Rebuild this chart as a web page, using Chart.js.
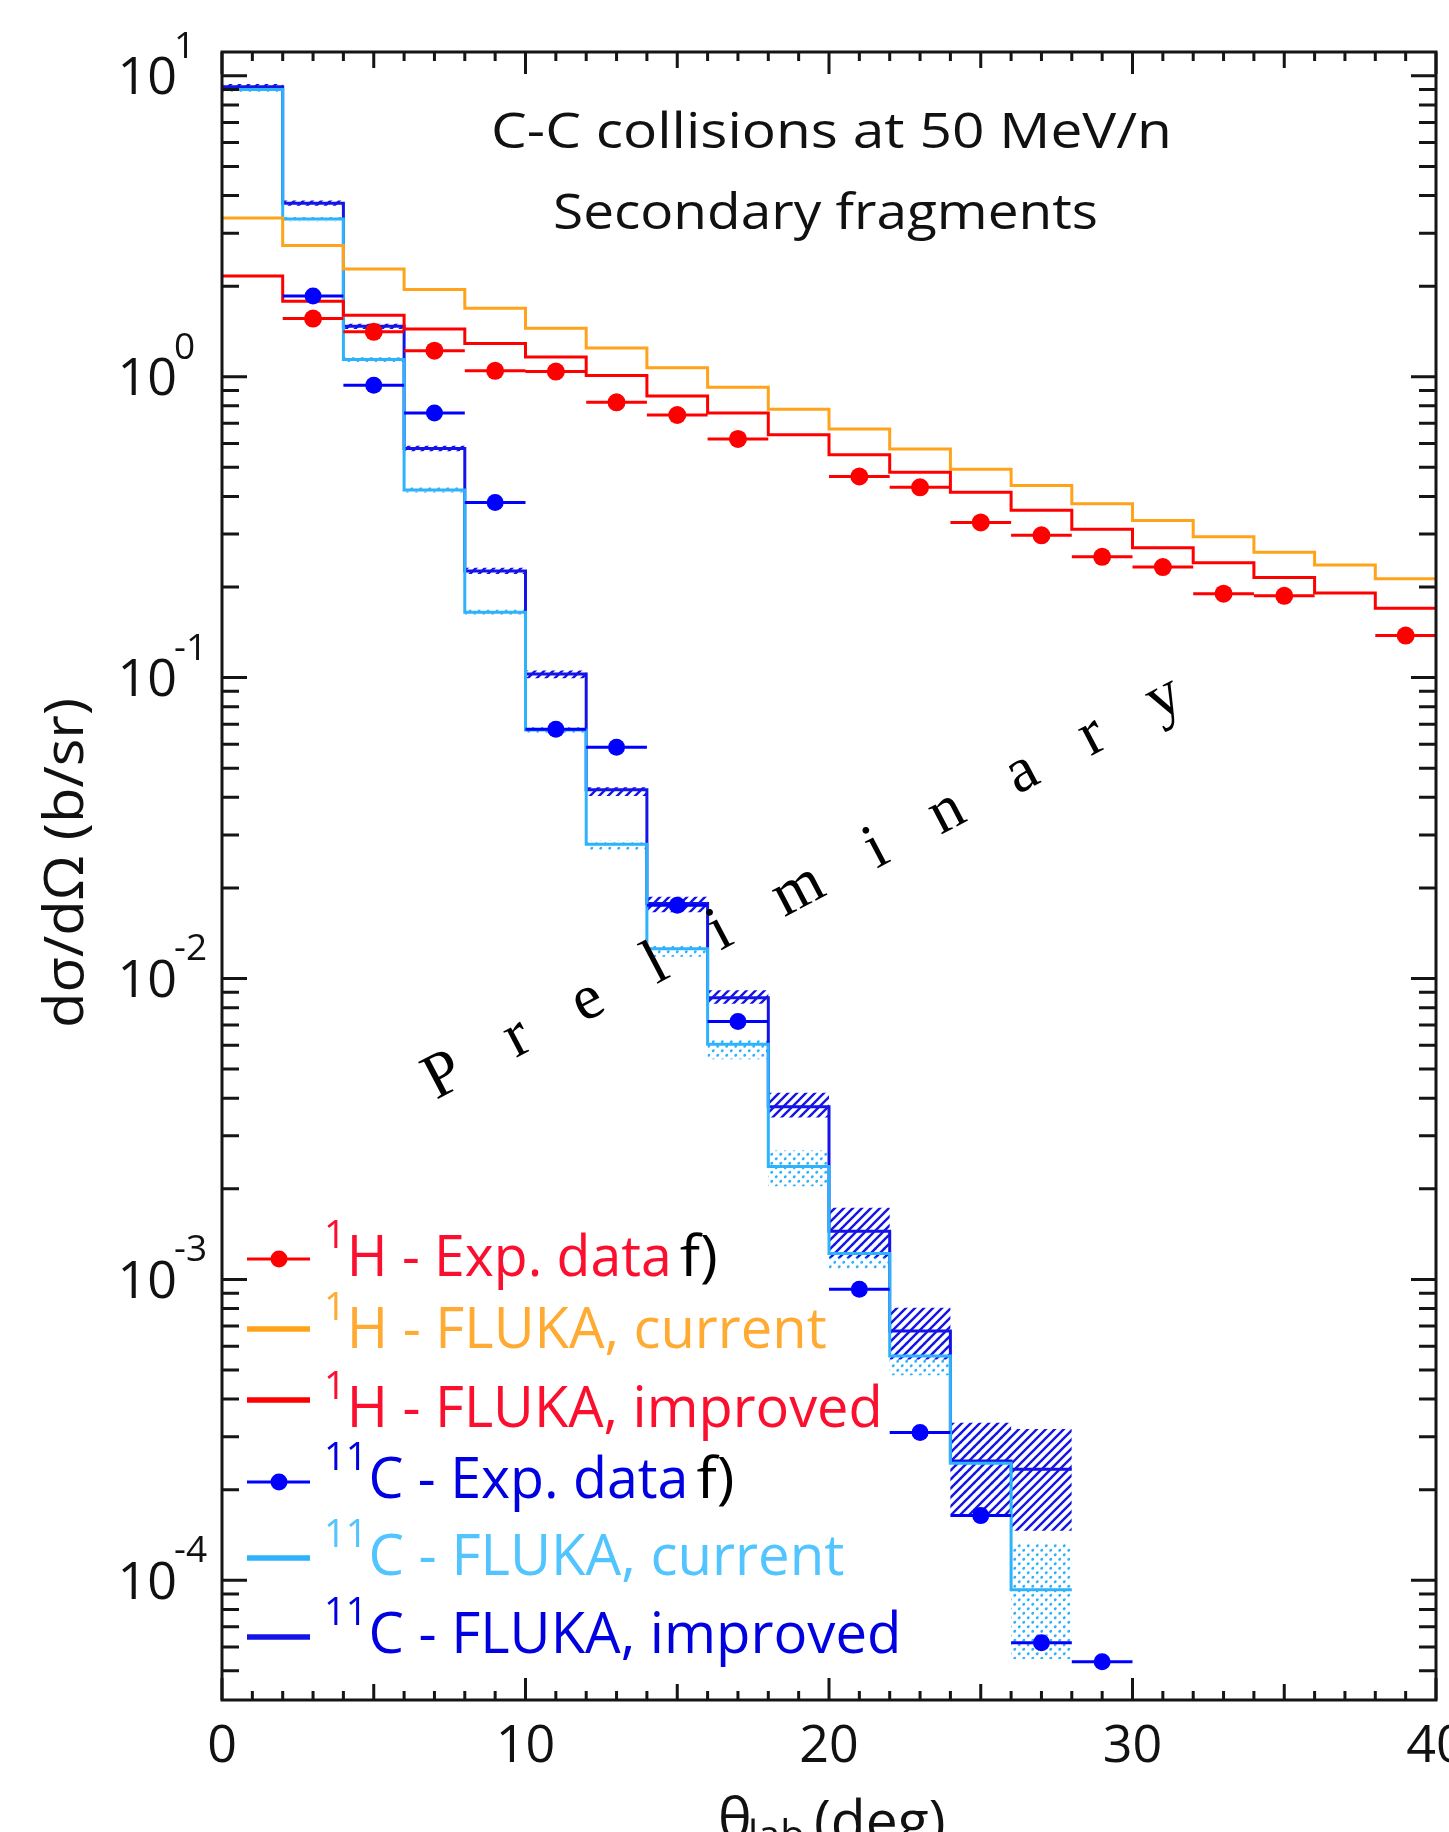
<!DOCTYPE html>
<html><head><meta charset="utf-8">
<script src="https://cdn.jsdelivr.net/npm/chart.js@4.4.1/dist/chart.umd.min.js"></script>
<style>html,body{margin:0;padding:0;background:#fff;overflow:hidden}canvas{display:block}</style>
</head><body>
<canvas id="c" width="1449" height="1832"></canvas>
<script>
// ---------- data ----------
const hBinEdges = [0,2,4,6,8,10,12,14,16,18,20,22,24,26,28,30,32,34,36,38,40];
const hFlukaCurrent  = [3.37,2.73,2.28,1.95,1.69,1.45,1.246,1.072,0.923,0.780,0.670,0.575,0.493,0.435,0.378,0.333,0.294,0.261,0.2365,0.213];
const hFlukaImproved = [2.16,1.78,1.60,1.44,1.29,1.163,1.01,0.862,0.757,0.641,0.550,0.481,0.413,0.360,0.311,0.270,0.241,0.215,0.191,0.170];
const hExpAngle = [3,5,7,9,11,13,15,17,21,23,25,27,29,31,33,35,39];
const hExpValue = [1.56,1.41,1.22,1.046,1.04,0.822,0.746,0.621,0.466,0.429,0.328,0.297,0.252,0.233,0.190,0.187,0.138];

const cBinEdges = [0,2,4,6,8,10,12,14,16,18,20,22,24,26,28];
const cFlukaImproved     = [9.2,3.77,1.47,0.577,0.226,0.1027,0.0424,0.01775,0.00863,0.003745,0.001446,0.000673,0.000249,0.000234];
const cFlukaImprovedLow  = [9.0,3.70,1.44,0.565,0.221,0.0995,0.0404,0.0166,0.00824,0.00345,0.00118,0.000542,0.000166,0.000146];
const cFlukaImprovedHigh = [9.4,3.85,1.50,0.590,0.232,0.1055,0.0432,0.0187,0.00914,0.00417,0.00173,0.000805,0.000334,0.000318];
const cFlukaCurrent      = [9.0,3.34,1.14,0.420,0.165,0.067,0.02795,0.01255,0.00604,0.00237,0.00122,0.000556,0.000245,0.000093];
const cFlukaCurrentLow   = [8.85,3.28,1.12,0.412,0.162,0.0655,0.0268,0.0118,0.00539,0.00204,0.00108,0.00048,0.00019,0.0000547];
const cFlukaCurrentHigh  = [9.15,3.40,1.16,0.428,0.168,0.0685,0.0287,0.0129,0.00628,0.00268,0.00134,0.00064,0.00031,0.000132];
const cExpAngle = [3,5,7,9,11,13,15,17,21,23,25,27,29];
const cExpValue = [1.856,0.936,0.757,0.382,0.0673,0.0587,0.0175,0.0072,0.000927,0.00031,0.000164,0.000062,0.0000536];

const xTickValues = [0,10,20,30,40];
const xTickLabels = ['0','10','20','30','40'];
const yTickExponents = [1,0,-1,-2,-3,-4];
const yTickLabels = ['1','0','-1','-2','-3','-4'];

const titleLines = ['C-C collisions at 50 MeV/n','Secondary fragments'];
const legendSup  = ['1','1','1','11','11','11'];
const legendText = ['H - Exp. data','H - FLUKA, current','H - FLUKA, improved','C - Exp. data','C - FLUKA, current','C - FLUKA, improved'];
const legendNote = ['f)','','','f)','',''];
const watermark = 'Preliminary';

// ---------- style ----------
const colRed = '#ff0000', colOrange = '#ffa31a', colDark = '#1414e6', colLight = '#2eb2fb', colBlueExp = '#0000ff';
const txtRed = '#fb0f2e', txtOrange = '#ffab33', txtBlue = '#0000e0', txtLight = '#52c5ff';
const SANS = "'Open Sans'";

function histPoints(edges, vals){
  const p = vals.map((v,i)=>({x:edges[i], y:v}));
  p.push({x:edges[vals.length], y:vals[vals.length-1]});
  return p;
}
function errPoints(xs, ys, half){
  const p = [];
  xs.forEach((x,i)=>{ p.push({x:x-half,y:ys[i]},{x:x+half,y:ys[i]},{x:x+half,y:null}); });
  return p;
}
function hatch(color, lw, s){
  const c = document.createElement('canvas'); c.width = c.height = s;
  const g = c.getContext('2d'); g.strokeStyle = color; g.lineWidth = lw; g.lineCap='square';
  g.beginPath();
  g.moveTo(0,s); g.lineTo(s,0);
  g.moveTo(-s/2,s/2); g.lineTo(s/2,-s/2);
  g.moveTo(s/2,s*1.5); g.lineTo(s*1.5,s/2);
  g.stroke();
  return g.createPattern(c,'repeat');
}
function dots(color, s){
  const c = document.createElement('canvas'); c.width = c.height = s;
  const g = c.getContext('2d'); g.fillStyle = color;
  g.beginPath(); g.ellipse(s*0.25, s*0.75, 1.6, 1.3, -0.8, 0, Math.PI*2); g.fill();
  g.beginPath(); g.ellipse(s*0.75, s*0.25, 1.6, 1.3, -0.8, 0, Math.PI*2); g.fill();
  return g.createPattern(c,'repeat');
}
const ctx0 = document.getElementById('c').getContext('2d');
const patDark = hatch(colDark, 2.4, 9);
const patLight = dots(colLight, 9);

const stepLine = (data, color, order, w=3) => ({type:'line', data, stepped:'before', borderColor:color, borderWidth:w,
  pointRadius:0, fill:false, order, borderJoinStyle:'miter', borderCapStyle:'butt'});
const bandLow = (data, order) => ({type:'line', data, stepped:'before', borderWidth:0, borderColor:'transparent', pointRadius:0, fill:false, order});
const bandHigh = (data, pat, order) => ({type:'line', data, stepped:'before', borderWidth:0, borderColor:'transparent', pointRadius:0, fill:'-1', backgroundColor:pat, order});

const datasets = [
  bandLow(histPoints(cBinEdges, cFlukaCurrentLow), 13),
  bandHigh(histPoints(cBinEdges, cFlukaCurrentHigh), patLight, 12),
  bandLow(histPoints(cBinEdges, cFlukaImprovedLow), 11),
  bandHigh(histPoints(cBinEdges, cFlukaImprovedHigh), patDark, 10),
  stepLine(histPoints(cBinEdges, cFlukaImproved), colDark, 8),
  stepLine(histPoints(cBinEdges, cFlukaCurrent), colLight, 7),
  stepLine(histPoints(hBinEdges, hFlukaCurrent), colOrange, 6),
  stepLine(histPoints(hBinEdges, hFlukaImproved), colRed, 5),
  {type:'line', data:errPoints(cExpAngle, cExpValue, 1), borderColor:colBlueExp, borderWidth:3, pointRadius:0, spanGaps:false, order:4},
  {type:'line', data:cExpAngle.map((x,i)=>({x, y:cExpValue[i]})), showLine:false, pointRadius:8.5, pointBackgroundColor:colBlueExp, pointBorderWidth:0, order:3},
  {type:'line', data:errPoints(hExpAngle, hExpValue, 1), borderColor:colRed, borderWidth:3, pointRadius:0, spanGaps:false, order:2},
  {type:'line', data:hExpAngle.map((x,i)=>({x, y:hExpValue[i]})), showLine:false, pointRadius:9, pointBackgroundColor:colRed, pointBorderWidth:0, order:1}
];

function fitDraw(ctx, str, x, y, size, family, targetW, align){
  ctx.font = size + 'px ' + family;
  const w = ctx.measureText(str).width;
  const sx = targetW ? targetW / w : 1;
  ctx.save(); ctx.translate(x, y); ctx.scale(sx, 1);
  ctx.textAlign = align || 'left'; ctx.fillText(str, 0, 0); ctx.restore();
  return w * sx;
}

const decor = {
  id: 'decor',
  afterDatasetsDraw(chart){
    const {ctx, chartArea:a} = chart;
    const xs = chart.scales.x, ys = chart.scales.y;
    ctx.save();
    ctx.textBaseline = 'alphabetic';
    // watermark
    ctx.fillStyle = '#000';
    ctx.font = '64px "Liberation Serif"';
    ctx.save(); ctx.translate(436, 1100); ctx.rotate(-27.7*Math.PI/180);
    let adv = 0;
    for (const ch of watermark){ ctx.fillText(ch, adv, 0); adv += ctx.measureText(ch).width + 54.5; }
    ctx.restore();

    // frame
    ctx.strokeStyle = '#151515'; ctx.lineWidth = 3;
    ctx.strokeRect(a.left, a.top, a.right - a.left, a.bottom - a.top);
    // ticks
    ctx.beginPath();
    for (let v = 0; v <= 40; v++){
      const px = xs.getPixelForValue(v);
      const L = v % 10 === 0 ? 22 : (v % 5 === 0 ? 16 : 9);
      ctx.moveTo(px, a.bottom); ctx.lineTo(px, a.bottom - L);
      ctx.moveTo(px, a.top); ctx.lineTo(px, a.top + L);
    }
    for (let k = -5; k <= 1; k++){
      for (let m = 1; m <= 9; m++){
        const v = m * Math.pow(10, k);
        if (v <= ys.min * 1.001 || v >= ys.max) continue;
        const py = ys.getPixelForValue(v);
        const L = m === 1 ? 25 : 17;
        ctx.moveTo(a.left, py); ctx.lineTo(a.left + L, py);
        ctx.moveTo(a.right, py); ctx.lineTo(a.right - L, py);
      }
    }
    ctx.stroke();

    // tick labels
    ctx.fillStyle = '#111';
    ctx.font = '52px ' + SANS; ctx.textAlign = 'center';
    xTickValues.forEach((v,i)=>{ ctx.fillText(xTickLabels[i], xs.getPixelForValue(v), 1762); });
    yTickExponents.forEach((k,i)=>{
      const py = ys.getPixelForValue(Math.pow(10,k));
      ctx.font = '52px ' + SANS; ctx.textAlign = 'right';
      ctx.fillText('10', 177, py + 18.6);
      ctx.font = '37px ' + SANS; ctx.textAlign = 'left';
      ctx.fillText(yTickLabels[i], 174, py - 18);
    });

    // axis titles
    ctx.save(); ctx.translate(83, 863); ctx.rotate(-Math.PI/2);
    fitDraw(ctx, 'dσ/dΩ (b/sr)', 0, 0, 54, SANS, 330, 'center');
    ctx.restore();
    ctx.font = '57px ' + SANS; ctx.textAlign = 'left';
    ctx.fillText('θ', 718, 1838);
    ctx.font = '40px ' + SANS; ctx.fillText('lab', 748, 1849);
    ctx.font = '57px ' + SANS; ctx.fillText('(deg)', 814, 1841);

    // title
    ctx.fillStyle = '#111';
    fitDraw(ctx, titleLines[0], 831.5, 148.3, 48.7, SANS, 681, 'center');
    fitDraw(ctx, titleLines[1], 825.5, 228.5, 48.7, SANS, 545, 'center');

    // legend
    const rowBase = [1276, 1348, 1427, 1498, 1575, 1653];
    const rowLineY = [1259, 1329, 1400, 1482, 1558, 1637];
    const rowW = [325, 480, 536, 320, 476, 533];
    const lineCol = [colRed, colOrange, colRed, colBlueExp, colLight, colDark];
    const txtCol = [txtRed, txtOrange, txtRed, txtBlue, txtLight, txtBlue];
    for (let i = 0; i < 6; i++){
      const ly = rowLineY[i];
      ctx.strokeStyle = lineCol[i];
      ctx.lineWidth = (i === 0 || i === 3) ? 3 : 5.5;
      ctx.beginPath(); ctx.moveTo(247, ly); ctx.lineTo(310, ly); ctx.stroke();
      if (i === 0 || i === 3){
        ctx.fillStyle = lineCol[i];
        ctx.beginPath(); ctx.arc(279, ly, 8.5, 0, Math.PI*2); ctx.fill();
      }
      ctx.fillStyle = txtCol[i];
      ctx.font = '38px ' + SANS; ctx.textAlign = 'left';
      ctx.fillText(legendSup[i], 324, rowBase[i] - 28);
      const sw = ctx.measureText(legendSup[i]).width;
      const tx = 324 + sw + 1;
      const w = fitDraw(ctx, legendText[i], tx, rowBase[i], 57.4, SANS, rowW[i], 'left');
      if (legendNote[i]){
        ctx.fillStyle = '#000';
        fitDraw(ctx, legendNote[i], tx + w + 8, rowBase[i], 57.4, SANS, 38, 'left');
      }
    }
    ctx.restore();
  }
};

new Chart(document.getElementById('c'), {
  type: 'line',
  data: { datasets },
  options: {
    responsive: false, animation: false, devicePixelRatio: 1,
    parsing: true,
    layout: { padding: { left: 222, right: 13, top: 52, bottom: 132 } },
    scales: {
      x: { type: 'linear', min: 0, max: 40, display: false },
      y: { type: 'logarithmic', min: 4e-5, max: 12, display: false }
    },
    plugins: { legend: { display: false }, tooltip: { enabled: false }, filler: { propagate: false } },
    elements: { point: { hoverRadius: 0 } }
  },
  plugins: [decor]
});
</script>
</body></html>
